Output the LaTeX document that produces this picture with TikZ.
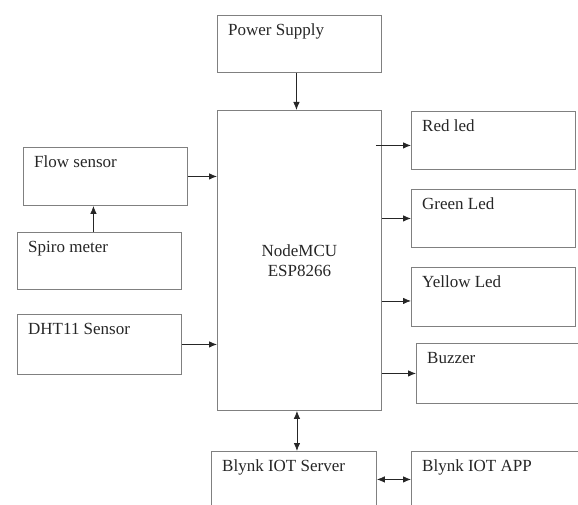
\documentclass[tikz,border=0pt]{standalone}
\usepackage{fontspec}
\setmainfont{Liberation Serif}
\usetikzlibrary{arrows.meta}
\tikzset{
    blk/.style={draw=black!50, line width=0.9pt, anchor=north west, inner sep=0pt,
        minimum width=164pt, minimum height=58pt},
    lbl/.style={anchor=north west, inner sep=0pt, xshift=11pt, yshift=-9pt,
        text=black!85, font=\fontsize{17}{20}\selectfont},
    arr/.style={-{Latex[length=8pt,width=6.5pt]}, line width=0.8pt, black!85},
    biarr/.style={{Latex[length=8pt,width=6.5pt]}-{Latex[length=8pt,width=6.5pt]}, line width=0.8pt, black!85},
}
\begin{document}
\begin{tikzpicture}[x=1pt, y=-1pt]
    \useasboundingbox (0,0) rectangle (578,505);
    \clip (0,0) rectangle (578,505);

    %controller
    \node[blk, minimum height=300pt, align=center, text=black!85,
        font=\fontsize{17}{20}\selectfont] (mcu) at (217,110) {NodeMCU\\ESP8266};
    \node[blk, minimum height=57pt, label={[lbl]north west:Power Supply}] (power) at (217,15) {};

    %inputs
    \node[blk, label={[lbl]north west:Flow sensor}] (flow) at (23,147) {};
    \node[blk, minimum height=57pt, label={[lbl]north west:Spiro meter}] (spiro) at (17,232) {};
    \node[blk, minimum height=60pt, label={[lbl]north west:DHT11 Sensor}] (dht) at (17,314) {};

    %outputs
    \node[blk, label={[lbl]north west:Red led}] (red) at (411,111) {};
    \node[blk, label={[lbl]north west:Green Led}] (green) at (411,189) {};
    \node[blk, minimum height=59pt, label={[lbl]north west:Yellow Led}] (yellow) at (411,267) {};
    \node[blk, minimum width=162pt, minimum height=60pt, label={[lbl]north west:Buzzer}] (buzzer) at (416,343) {};

    %cloud
    \node[blk, minimum width=165pt, minimum height=56pt, label={[lbl]north west:Blynk IOT Server}] (server) at (211,451) {};
    \node[blk, minimum width=167pt, minimum height=56pt, label={[lbl]north west:Blynk IOT APP}] (app) at (411,451) {};

    \path [arr] ([xshift=-3pt]power.south) edge ([xshift=-3pt]power.south |- mcu.north);
    \path [arr] ([xshift=-6pt]spiro.north) edge ([xshift=-6pt]spiro.north |- flow.south);
    \path [arr] (flow.east) edge (flow.east -| mcu.west);
    \path [arr] (dht.east) edge (dht.east -| mcu.west);
    \path [arr] ([xshift=-6pt,yshift=-5pt]mcu.east |- red.west) edge ([yshift=-5pt]red.west);
    \path [arr] (mcu.east |- green.west) edge (green.west);
    \path [arr] ([yshift=-4pt]mcu.east |- yellow.west) edge ([yshift=-4pt]yellow.west);
    \path [arr] (mcu.east |- buzzer.west) edge (buzzer.west);
    \path [biarr] ([xshift=3pt]server.north |- mcu.south) edge ([xshift=3pt]server.north);
    \path [biarr] (server.east) edge (app.west);
\end{tikzpicture}
\end{document}
